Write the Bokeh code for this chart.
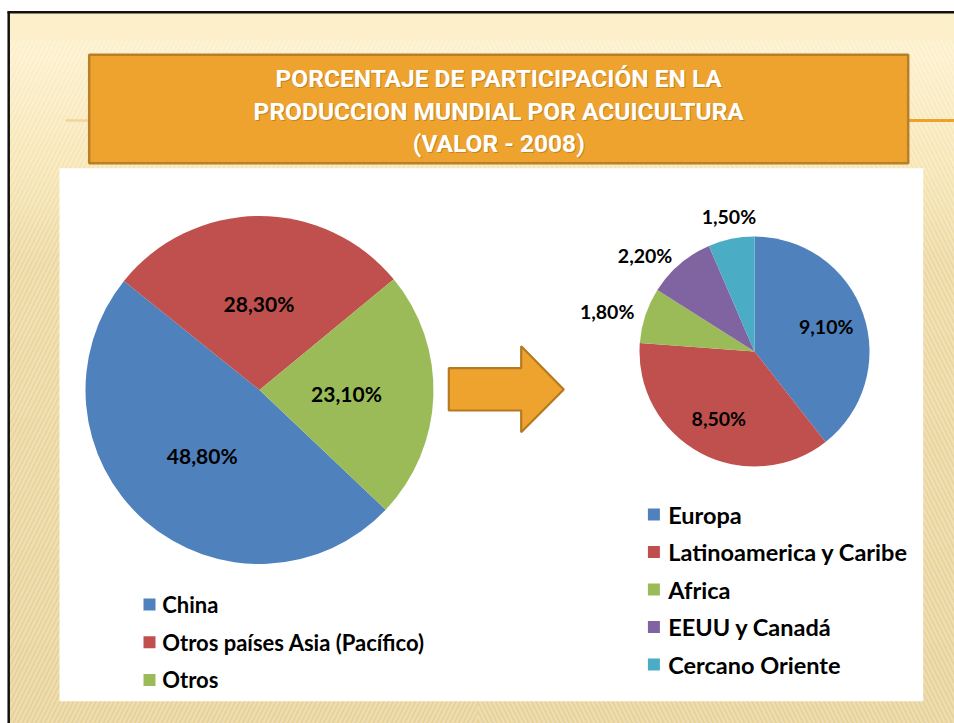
import numpy as np
from bokeh.plotting import figure
from bokeh.models import Range1d, ColumnDataSource
from bokeh.core.properties import value
from bokeh.embed import file_html
from bokeh.resources import INLINE

# ---------------- data ----------------
title_lines = ["PORCENTAJE DE PARTICIPACIÓN EN LA",
               "PRODUCCION MUNDIAL POR ACUICULTURA",
               "(VALOR - 2008)"]

left_categories = ["China", "Otros países Asia (Pacífico)", "Otros"]
left_values = [48.8, 28.3, 23.1]
left_labels = ["48,80%", "28,30%", "23,10%"]

right_categories = ["Europa", "Latinoamerica y Caribe", "Africa", "EEUU y Canadá", "Cercano Oriente"]
right_values = [9.1, 8.5, 1.8, 2.2, 1.5]
right_labels = ["9,10%", "8,50%", "1,80%", "2,20%", "1,50%"]

left_colors = ["#4F81BD", "#C0504D", "#9BBB59"]
right_colors = ["#4F81BD", "#C0504D", "#9BBB59", "#8064A2", "#4BACC6"]

# ---------------- figure ----------------
W, H = 954, 723
p = figure(width=W, height=H, x_range=Range1d(0, W), y_range=Range1d(H, 0),
           output_backend="svg", toolbar_location=None, min_border=0)
p.axis.visible = False
p.grid.visible = False
p.outline_line_color = None
p.background_fill_color = "white"
p.border_fill_color = "white"

LABEL_FONT = value("Lato")
TITLE_FONT = value("Roboto")

# background gradient (slide)
stops_y = [12, 60, 170, 260, 723]
stops_c = [(253, 241, 205), (252, 238, 198), (246, 228, 175), (236, 214, 156), (231, 208, 148)]
ys = np.arange(12, H + 1, 4)
bl, br, bt, bb, bc = [], [], [], [], []
for y0 in ys:
    yc = y0 + 2
    col = [int(np.interp(yc, stops_y, [c[k] for c in stops_c])) for k in range(3)]
    bl.append(8); br.append(W); bt.append(y0); bb.append(y0 + 4.5)
    bc.append("#%02x%02x%02x" % tuple(col))
p.quad(left=bl, right=br, top=bt, bottom=bb, fill_color=bc, line_color=None)
# faint stripes
p.quad(left=[8], right=[477], top=[40], bottom=[H], fill_color=None, line_color=None,
       hatch_pattern="/", hatch_color="white", hatch_alpha=0.28, hatch_scale=9, hatch_weight=2.5)
p.quad(left=[477], right=[W], top=[40], bottom=[H], fill_color=None, line_color=None,
       hatch_pattern="\\", hatch_color="white", hatch_alpha=0.28, hatch_scale=9, hatch_weight=2.5)

# slide border (top and left)
p.segment(x0=[7], y0=[11.8], x1=[W], y1=[11.8], line_color="#111111", line_width=2.5)
p.segment(x0=[8.2], y0=[11], x1=[8.2], y1=[H], line_color="#111111", line_width=2.5)

# decorative horizontal rule
p.segment(x0=[65], y0=[120], x1=[90], y1=[120], line_color="#F3D49A", line_width=2.5)
p.segment(x0=[906], y0=[120], x1=[W], y1=[120], line_color="#EEA22E", line_width=3)

# title box
p.quad(left=[88.7], right=[907.7], top=[54.3], bottom=[162.7],
       fill_color="#EEA32F", line_color="#B97E28", line_width=2.5)
tcx = (88.7 + 907.7) / 2
tys = [78, 110.5, 143]
p.text(x=[tcx + 1] * 3, y=[t + 1.2 for t in tys], text=title_lines, text_font=TITLE_FONT,
       text_font_style="bold", text_font_size="24.5px", text_align="center",
       text_baseline="middle", text_color="#9C6418", text_alpha=0.5)
p.text(x=[tcx] * 3, y=tys, text=title_lines, text_font=TITLE_FONT,
       text_font_style="bold", text_font_size="24.5px", text_align="center",
       text_baseline="middle", text_color="white")

# white chart panel
p.quad(left=[59], right=[922.7], top=[167.7], bottom=[700.7], fill_color="white", line_color=None)


def pie(cx, cy, r, vals, colors, labels, start_deg, inner_frac, font_px):
    vals = np.array(vals, dtype=float)
    n = len(vals)
    fr = vals / vals.sum()
    cum = np.concatenate([[0.0], np.cumsum(fr)])
    a0 = np.radians(start_deg)
    a_start = a0 - cum[:-1] * 2 * np.pi   # clockwise
    a_end = a0 - cum[1:] * 2 * np.pi
    src = ColumnDataSource(dict(x=[cx] * n, y=[cy] * n, s=list(a_end), e=list(a_start), c=colors))
    p.wedge(x="x", y="y", radius=r, start_angle="s", end_angle="e", direction="anticlock",
            fill_color="c", line_color=None, source=src)
    mids = (a_start + a_end) / 2
    for i in range(n):
        m = mids[i]
        if fr[i] >= 0.12:
            d = inner_frac * r
            lx, ly = cx + d * np.cos(m), cy - d * np.sin(m)
            align, base = "center", "middle"
        else:
            d = 1.1 * r
            lx, ly = cx + d * np.cos(m), cy - d * np.sin(m)
            if np.cos(m) < -0.35:
                align, base = "right", "middle"
            elif np.cos(m) > 0.35:
                align, base = "left", "middle"
            else:
                align, base = "center", ("bottom" if np.sin(m) > 0 else "top")
        p.text(x=[lx], y=[ly], text=[labels[i]], text_font=LABEL_FONT, text_font_style="bold",
               text_font_size=f"{font_px}px", text_align=align, text_baseline=base,
               text_color="black")


pie(259.0, 389.5, 174, left_values, left_colors, left_labels, -43.5, 0.5, 21)
pie(754.0, 351.0, 115, right_values, right_colors, right_labels, 90.0, 0.66, 19.5)

# arrow
ax = [448.3, 520.7, 520.7, 563.3, 520.7, 520.7, 448.3]
ay = [367.7, 367.7, 345.7, 389.0, 431.7, 410.0, 410.0]
p.patch(x=ax, y=ay, fill_color="#EFA32F", line_color="#B5791F", line_width=2.2)


def legend(cats, colors, sq_x, tx, y0, dy, fs):
    ys_ = [y0 + i * dy for i in range(len(cats))]
    p.rect(x=[sq_x] * len(cats), y=ys_, width=12, height=12, fill_color=colors, line_color=None)
    p.text(x=[tx] * len(cats), y=ys_, text=cats, text_font=LABEL_FONT, text_font_style="bold",
           text_font_size=fs, text_align="left", text_baseline="middle", text_color="black")


legend(left_categories, left_colors, 149, 161.7, 604, 37.7, "22px")
legend(right_categories, right_colors, 653.4, 667.7, 514, 37.5, "23.5px")

open("out.html", "w").write(file_html(p, INLINE))
